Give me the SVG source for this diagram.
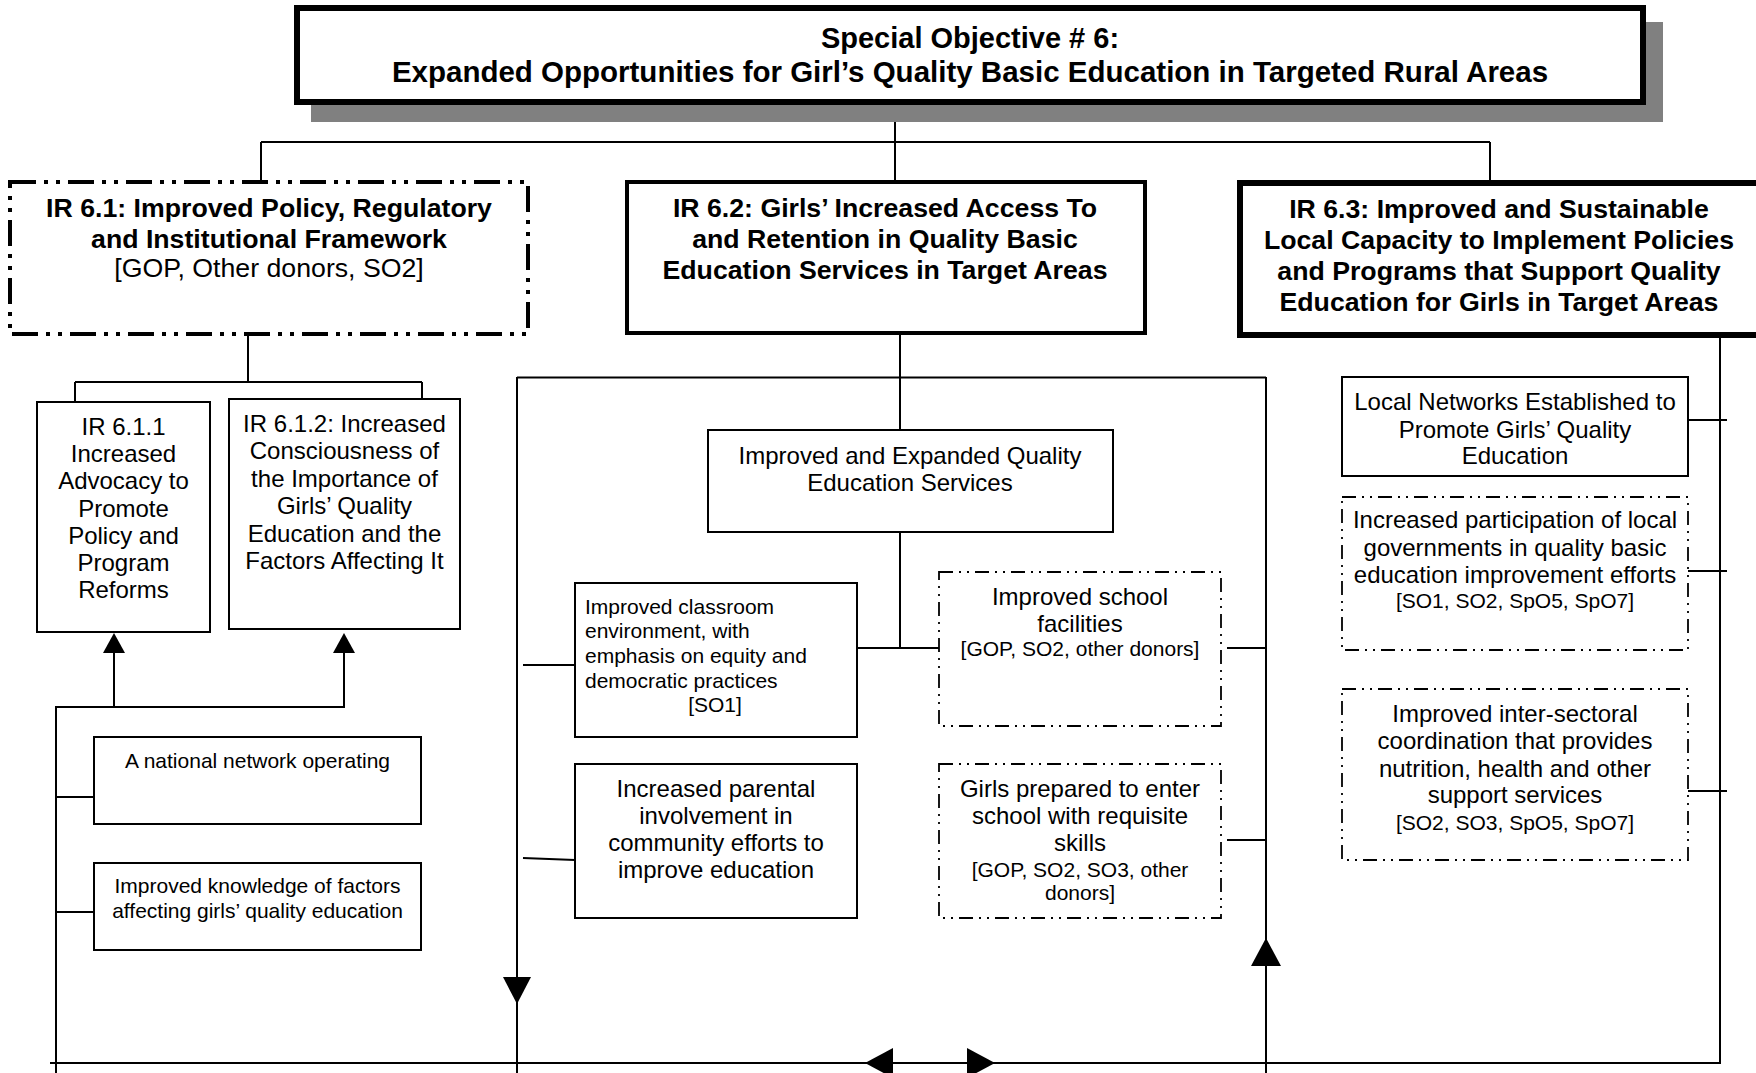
<svg xmlns="http://www.w3.org/2000/svg" width="1756" height="1073" viewBox="0 0 1756 1073">
<style>
text{font-family:"Liberation Sans",Arial,sans-serif;fill:#000}
.b{font-weight:bold;font-size:26.7px;text-anchor:middle}
.t{font-weight:bold;font-size:29px;text-anchor:middle}
.r{font-size:24px;text-anchor:middle}
.s{font-size:21px;text-anchor:middle}
.sl{font-size:21px}
.box{fill:#fff;stroke:#000;stroke-width:2}
.dd{fill:#fff;stroke:#000;stroke-width:1.8;stroke-dasharray:14 6 2 6 2 6}
.ln{stroke:#000;stroke-width:2;fill:none}
.ah{fill:#000}
</style>
<rect x="0" y="0" width="1756" height="1073" fill="#fff"/>
<g id="connectors">
<path class="ln" d="M895 105V142M261 142H1490M261 142V182M895 142V182M1490 142V183"/>
<path class="ln" d="M248 335V382M75 382H422M75 382V402M422 382V402"/>
<path class="ln" d="M114 650V707M344 650V707M55 707H345M56 707V1073M56 797H94M56 912H94"/>
<path class="ln" d="M50 1063H1720M1720 335V1064M1688 420H1727M1688 571H1727M1688 791H1727"/>
<path class="ln" d="M517 377.5H1266M517 377V1073M1266 377V1073M900 333V430M900 532V648M857 648H939M523 665H575M523 858L575 860M1227 648H1266M1227 840H1266"/>
<polygon class="ah" points="114,633 103,653 125,653"/>
<polygon class="ah" points="344,633 333,653 355,653"/>
<polygon class="ah" points="517,1004 503,977 531,977"/>
<polygon class="ah" points="1266,938 1251,966 1281,966"/>
<polygon class="ah" points="865,1063 893,1048 893,1078"/>
<polygon class="ah" points="995,1063 967,1048 967,1078"/>
</g>
<g id="so6">
<rect x="311" y="22" width="1352" height="100" fill="#808080"/>
<rect x="297" y="8" width="1346" height="94" fill="#fff" stroke="#000" stroke-width="6"/>
<text class="t" x="970" y="48">Special Objective # 6:</text>
<text class="t" x="970" y="82" style="font-size:29.5px">Expanded Opportunities for Girl’s Quality Basic Education in Targeted Rural Areas</text>
</g>
<g id="ir61">
<rect x="10" y="182" width="518" height="152" fill="#fff" stroke="#000" stroke-width="4" stroke-dasharray="26 8 4 8 4 8"/>
<text class="b" x="269" y="217">IR 6.1: Improved Policy, Regulatory</text>
<text class="b" x="269" y="248">and Institutional Framework</text>
<text class="r" x="269" y="277" style="font-size:26.7px">[GOP, Other donors, SO2]</text>
</g>
<g id="ir62">
<rect x="627" y="182" width="518" height="151" fill="#fff" stroke="#000" stroke-width="4"/>
<text class="b" x="885" y="217">IR 6.2: Girls’ Increased Access To</text>
<text class="b" x="885" y="248">and Retention in Quality Basic</text>
<text class="b" x="885" y="279">Education Services in Target Areas</text>
</g>
<g id="ir63">
<rect x="1240" y="183" width="530" height="152" fill="#fff" stroke="#000" stroke-width="6"/>
<text class="b" x="1499" y="218">IR 6.3: Improved and Sustainable</text>
<text class="b" x="1499" y="249">Local Capacity to Implement Policies</text>
<text class="b" x="1499" y="280">and Programs that Support Quality</text>
<text class="b" x="1499" y="311">Education for Girls in Target Areas</text>
</g>
<g id="ir611">
<rect class="box" x="37" y="402" width="173" height="230" stroke-width="2.5"/>
<text class="r" x="123.5" y="435">IR 6.1.1</text>
<text class="r" x="123.5" y="462">Increased</text>
<text class="r" x="123.5" y="489">Advocacy to</text>
<text class="r" x="123.5" y="517">Promote</text>
<text class="r" x="123.5" y="544">Policy and</text>
<text class="r" x="123.5" y="571">Program</text>
<text class="r" x="123.5" y="598">Reforms</text>
</g>
<g id="ir612">
<rect class="box" x="229" y="399" width="231" height="230" stroke-width="2.5"/>
<text class="r" x="344.5" y="432">IR 6.1.2: Increased</text>
<text class="r" x="344.5" y="459">Consciousness of</text>
<text class="r" x="344.5" y="487">the Importance of</text>
<text class="r" x="344.5" y="514">Girls’ Quality</text>
<text class="r" x="344.5" y="542">Education and the</text>
<text class="r" x="344.5" y="569">Factors Affecting It</text>
</g>
<g id="national-network">
<rect class="box" x="94" y="737" width="327" height="87"/>
<text class="s" x="257.5" y="768">A national network operating</text>
</g>
<g id="knowledge">
<rect class="box" x="94" y="863" width="327" height="87"/>
<text class="s" x="257.5" y="893">Improved knowledge of factors</text>
<text class="s" x="257.5" y="918">affecting girls’ quality education</text>
</g>
<g id="quality-services">
<rect class="box" x="708" y="430" width="405" height="102"/>
<text class="r" x="910" y="464">Improved and Expanded Quality</text>
<text class="r" x="910" y="491">Education Services</text>
</g>
<g id="classroom">
<rect class="box" x="575" y="583" width="282" height="154"/>
<text class="sl" x="585" y="614">Improved classroom</text>
<text class="sl" x="585" y="638">environment, with</text>
<text class="sl" x="585" y="663">emphasis on equity and</text>
<text class="sl" x="585" y="688">democratic practices</text>
<text class="s" x="715" y="712">[SO1]</text>
</g>
<g id="facilities">
<rect class="dd" x="939" y="572" width="282" height="154"/>
<text class="r" x="1080" y="605">Improved school</text>
<text class="r" x="1080" y="632">facilities</text>
<text class="s" x="1080" y="656">[GOP, SO2, other donors]</text>
</g>
<g id="parental">
<rect class="box" x="575" y="764" width="282" height="154"/>
<text class="r" x="716" y="797">Increased parental</text>
<text class="r" x="716" y="824">involvement in</text>
<text class="r" x="716" y="851">community efforts to</text>
<text class="r" x="716" y="878">improve education</text>
</g>
<g id="girls-prepared">
<rect class="dd" x="939" y="764" width="282" height="154"/>
<text class="r" x="1080" y="797">Girls prepared to enter</text>
<text class="r" x="1080" y="824">school with requisite</text>
<text class="r" x="1080" y="851">skills</text>
<text class="s" x="1080" y="877">[GOP, SO2, SO3, other</text>
<text class="s" x="1080" y="900">donors]</text>
</g>
<g id="local-networks">
<rect class="box" x="1342" y="377" width="346" height="99"/>
<text class="r" x="1515" y="410">Local Networks Established to</text>
<text class="r" x="1515" y="438">Promote Girls’ Quality</text>
<text class="r" x="1515" y="464">Education</text>
</g>
<g id="local-governments">
<rect class="dd" x="1342" y="497" width="346" height="153"/>
<text class="r" x="1515" y="528">Increased participation of local</text>
<text class="r" x="1515" y="556">governments in quality basic</text>
<text class="r" x="1515" y="583">education improvement efforts</text>
<text class="s" x="1515" y="608">[SO1, SO2, SpO5, SpO7]</text>
</g>
<g id="inter-sectoral">
<rect class="dd" x="1342" y="689" width="346" height="171"/>
<text class="r" x="1515" y="722">Improved inter-sectoral</text>
<text class="r" x="1515" y="749">coordination that provides</text>
<text class="r" x="1515" y="777">nutrition, health and other</text>
<text class="r" x="1515" y="803">support services</text>
<text class="s" x="1515" y="830">[SO2, SO3, SpO5, SpO7]</text>
</g>
</svg>
